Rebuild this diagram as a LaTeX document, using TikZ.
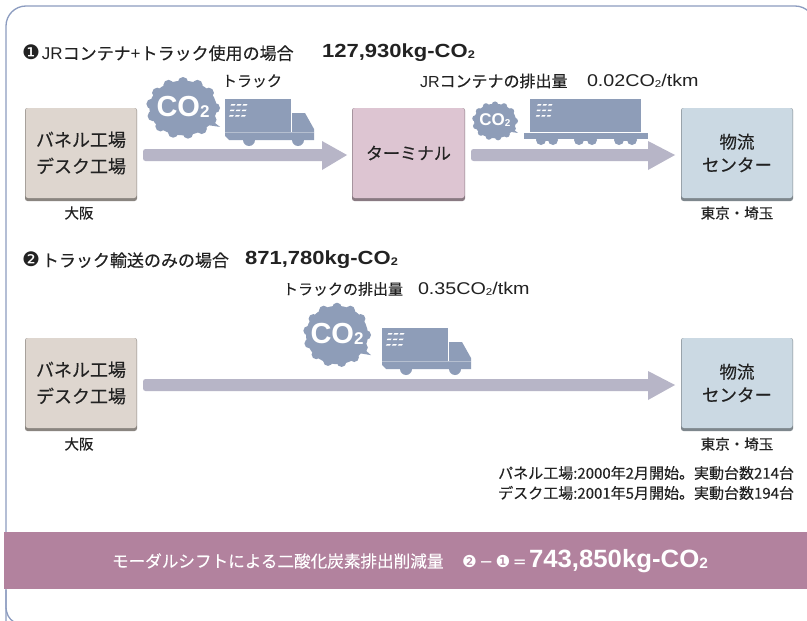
\documentclass[tikz,border=0pt]{standalone}
\usepackage{fontspec}
\setmainfont[FakeBold=0.25]{Noto Sans CJK JP}
\newfontfamily\latinf{Liberation Sans}
\newfontfamily\latinw[FakeStretch=1.16]{Liberation Sans}
\newfontfamily\latinz[FakeStretch=1.03]{Liberation Sans}
\newfontfamily\symf{DejaVu Sans}
\definecolor{frameblue}{HTML}{8C9CC0}
\definecolor{truckblue}{HTML}{8E9DB8}
\definecolor{arrowgrey}{HTML}{B7B5C7}
\definecolor{boxtan}{HTML}{DED6CF}
\definecolor{boxpink}{HTML}{DDC5D2}
\definecolor{boxblue}{HTML}{CBD9E3}
\definecolor{banner}{HTML}{B2829E}
\definecolor{ink}{HTML}{222222}
\tikzset{
 x=1pt,y=-1pt,
 every node/.style={inner sep=0pt,outer sep=0pt,text=ink},
 place/.style={rectangle,rounded corners=2.5pt,minimum width=111pt,minimum height=90pt,align=center,font=\fontsize{18}{26.5}\selectfont},
 placeb/.style={place,font=\fontsize{17.5}{23}\selectfont},
 under/.style={rounded corners=2.5pt},
 caption/.style={font=\fontsize{14.5}{16}\selectfont},
 head/.style={anchor=west,font=\fontsize{17}{18}\selectfont},
 headb/.style={anchor=west,font=\latinw\bfseries\fontsize{19}{20}\selectfont},
 small/.style={anchor=west,font=\fontsize{15}{17}\selectfont},
 rate/.style={anchor=west,font=\latinw\fontsize{17}{18}\selectfont},
 flow/.style={fill=arrowgrey},
 cargo/.style={fill=truckblue},
}
\newcommand{\COtwo}[1]{CO\raisebox{-0.1ex}{\fontsize{#1}{#1}\selectfont 2}}
\newcommand{\dn}[2]{\raisebox{-#1pt}{#2}}
\newcommand{\truck}[2]{%
\begin{scope}[shift={(#1,#2)}]
 \fill[cargo] (0,0) rectangle (66,33);
 \fill[cargo] (0,33) -- (0,37) -- (4,41) -- (89,41) -- (89,30) -- (80,14) -- (67,14) -- (67,33) -- cycle;
 \fill[cargo] (24,41) circle (6);
 \fill[cargo] (73,41) circle (6);
 \fill[white,opacity=.35] (0,32.6) rectangle (89,33.4);
 \foreach \a in {0,1,2} \foreach \b in {0,1,2}
   \fill[white] (6.5+\a*6-\b*.8,5+\b*5.5) -- +(4,0) -- +(3,1.6) -- +(-1,1.6) -- cycle;
\end{scope}}
% centre x, centre y, rx, ry, font size, subscript size
\newcommand{\puff}[6]{%
 \fill[cargo] ({#1+#3*0.6},{#2+#4*0.25}) -- ({#1+#3*1.0},{#2+#4*0.63}) -- ({#1+#3*0.55},{#2+#4*0.55}) -- cycle;
 \foreach \t in {0,27,...,340} \fill[cargo] ({#1+#3*0.86*cos(\t)},{#2+#4*0.86*sin(\t)}) circle ({#3*0.14});
 \fill[cargo] (#1,#2) ellipse ({#3*0.91} and {#4*0.91});
 \node[text=white,font=\latinf\bfseries\fontsize{#5}{#5}\selectfont] at (#1,{#2-1}) {\COtwo{#6}};
}
\begin{document}
\begin{tikzpicture}
\useasboundingbox (0,0) rectangle (807,621);
\fill[white] (0,0) rectangle (807,621);
% frame
\draw[frameblue,line width=1.3pt,rounded corners=20pt] (6,640) -- (6,6) -- (815,6) -- (815,60);
\draw[frameblue,line width=1.3pt] (6,590) -- (6,606) .. controls (6,614) and (9,619) .. (14,622);
% heading 1
\node[head] (h1) at (22,53) {{\symf\fontsize{20}{16}\selectfont\char"2776}\kern2pt{\latinf\fontsize{17}{18}\selectfont JR}コンテナ{\latinf +}トラック使用の場合};
\node[headb] (h1b) at (322,53) {127,930kg-\COtwo{11}};
\node[small] (l1) at (222,81) {トラック};
\node[small,font=\fontsize{16}{17}\selectfont] (l2) at (420,81) {{\latinf JR}コンテナの排出量};
\node[rate] (l2b) at (587,81) {0.02CO\raisebox{-0.1ex}{\fontsize{10}{10}\selectfont 2}/tkm};
% row 1 boxes
\fill[under,boxtan!62!black] (25,108) rectangle (137,201);
\fill[under,boxpink!62!black] (352,108) rectangle (465,201);
\fill[under,boxblue!62!black] (681,108) rectangle (793,201);
\node[place,fill=boxtan] (f1) at (81,153) {\dn{2.5}{バネル工場}\\\dn{2.5}{デスク工場}};
\node[placeb,fill=boxpink,minimum width=112pt,font=\fontsize{17}{20}\selectfont] (t1) at (408.5,153) {\dn{1}{ターミナル}};
\node[placeb,fill=boxblue] (c1) at (737,153) {\dn{1.5}{物流}\\\dn{1.5}{センター}};
\node[caption] (o1) at (79,213) {大阪};
\node[caption] (d1) at (737,213) {東京・埼玉};
% row 1 arrows
\fill[flow,rounded corners=2.5pt] (143,149) rectangle (325,161);
\fill[flow] (322,141) -- (347,155) -- (322,170) -- cycle;
\fill[flow,rounded corners=2.5pt] (471,149) rectangle (652,161);
\fill[flow] (648,141) -- (675,155) -- (648,170) -- cycle;
% truck 1
\puff{183}{108}{37}{30}{29}{17}
\truck{225}{99}
% train
\puff{495}{121}{23}{19}{17}{10}
\begin{scope}
 \fill[cargo] (530,99) rectangle (641,132);
 \fill[cargo] (524,133) rectangle (648,138.5);
 \fill[cargo] (538,138) rectangle (556,141);
 \fill[cargo] (576,138) rectangle (595,141);
 \fill[cargo] (616,138) rectangle (635,141);
 \foreach \x in {541,553,579,592,619,632} \fill[cargo] (\x,140) circle (5);
 \foreach \a in {0,1,2} \foreach \b in {0,1,2}
   \fill[white] (538+\a*5.5-\b*.7,104+\b*5.5) -- +(3.5,0) -- +(2.7,1.5) -- +(-.8,1.5) -- cycle;
\end{scope}
% heading 2
\node[head] (h2) at (22,260) {{\symf\fontsize{20}{16}\selectfont\char"2777}\kern2pt トラック輸送のみの場合};
\node[headb] (h2b) at (245,260) {871,780kg-\COtwo{11}};
\node[small] (l3) at (283,289) {トラックの排出量};
\node[rate] (l3b) at (418,289) {0.35CO\raisebox{-0.1ex}{\fontsize{10}{10}\selectfont 2}/tkm};
% row 2 boxes
\fill[under,boxtan!62!black] (25,338) rectangle (137,431);
\fill[under,boxblue!62!black] (681,338) rectangle (793,431);
\node[place,fill=boxtan] (f2) at (81,383) {\dn{5.5}{バネル工場}\\\dn{5.5}{デスク工場}};
\node[placeb,fill=boxblue] (c2) at (737,383) {\dn{0.5}{物流}\\\dn{0.5}{センター}};
\node[caption] (o2) at (79,444) {大阪};
\node[caption] (d2) at (737,444) {東京・埼玉};
\fill[flow,rounded corners=2.5pt] (143,379) rectangle (652,391);
\fill[flow] (648,371) -- (675,385) -- (648,400) -- cycle;
\puff{337}{335}{34}{32}{29}{17}
\truck{382}{328}
% notes
\node[anchor=east,align=right,font=\fontsize{15}{20}\selectfont] (n1) at (794,483) {パネル工場:2000年2月開始。実動台数214台\\デスク工場:2001年5月開始。実動台数194台};
% banner
\fill[banner] (4,532) rectangle (807,589);
\node[anchor=west,text=white,font=\fontsize{16.6}{18}\selectfont] (b1) at (112,561) {モーダルシフトによる二酸化炭素排出削減量};
\node[anchor=west,text=white,font=\symf\fontsize{16.5}{18}\selectfont] (b2) at (462,561) {\char"2777\kern2.5pt−\kern2.5pt\char"2776\kern2.5pt=};
\node[anchor=west,text=white,font=\latinz\bfseries\fontsize{25}{26}\selectfont] (b3) at (529,561) {743,850kg-\COtwo{15}};
\end{tikzpicture}
\end{document}
